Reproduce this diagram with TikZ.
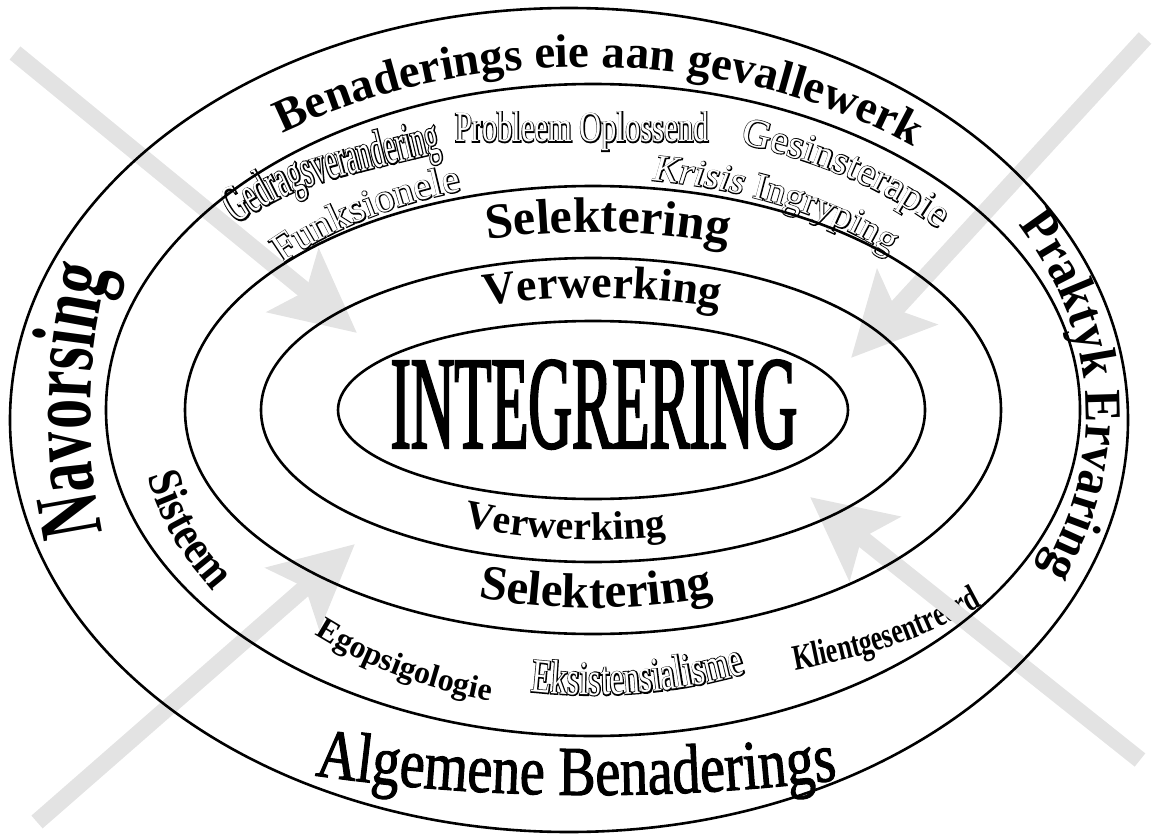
\documentclass[tikz,border=0pt]{standalone}
\usepackage{fontspec}
\setmainfont{Liberation Serif}
\newfontfamily\olback[FakeBold=4.5]{Liberation Serif}
\newfontfamily\integfont[FakeStretch=0.455, FakeBold=1.5]{Liberation Serif}
\usetikzlibrary{calc, arrows.meta, decorations.text}
\tikzset{
    ring/.style={draw, line width=2.6pt}, % the rings round the centre
    grayarrow/.style={draw=gray!22, line width=17pt, -{Stealth[length=82pt, width=80pt, inset=16pt]}}, % the big gray arrows
    curved/.style={decorate, decoration={text along path, text align=left, text={#1}}}, % text that follows a path
}
\newcommand\sz[2]{\addfontfeatures{FakeStretch=#2}\fontsize{#1}{#1}\selectfont}
% outlined text: a heavy black pass, then a white pass on top
\newcommand\olword[2]{%
    \def\olfam{\olback}%
    \path[decorate, decoration={text along path, text align=left, text={#2}}] #1;
    \def\olfam{\rmfamily}%
    \path[decorate, decoration={text along path, text align=left, text color=white, text={#2}}] #1;
}

\begin{document}
\begin{tikzpicture}[x=1pt, y=1pt]
    \useasboundingbox (0,0) rectangle (1153,-837);
    \coordinate (ctr) at (593,-410);
    \coordinate (octr) at (569,-420);
    \coordinate (tctr) at (585,-415);
    \coordinate (sctr) at (580,-415);
    \coordinate (bctr) at (593,-395);

    % outer band
    \path[curved={|\bfseries\sz{47}{1}|Benaderings eie aan gevallewerk}]
        ($(tctr)+(126:515 and 348)$) arc[start angle=126, end angle=20, x radius=515, y radius=348];
    \path[curved={|\addfontfeatures{FakeBold=1.5}\sz{70}{0.8}|Algemene Benaderings}]
        ($(bctr)+(252:900 and 400)$) arc[start angle=252, end angle=300, x radius=900, y radius=400];
    \path[curved={|\bfseries\sz{90}{0.67}|Navorsing}]
        ($(sctr)+(193.1:490 and 520)$) arc[start angle=193.1, end angle=140, x radius=490, y radius=520];
    \path[curved={|\bfseries\sz{52}{0.93}|Praktyk Ervaring}]
        ($(sctr)+(30:506 and 380)$) arc[start angle=30, end angle=-45, x radius=506, y radius=380];

    % approaches
    \coordinate (prA) at (455,-142);
    \coordinate (prB) at (760,-142);
    \olword{(prA) -- (prB)}{|\olfam\sz{43}{0.71}|Probleem Oplossend}
    \coordinate (gdA) at (236,-224);
    \coordinate (gdB) at (450,-150);
    \olword{(gdA) .. controls (298,-186) .. (gdB)}{|\olfam\sz{53}{0.51}|Gedragsverandering}
    \olword{($(ctr)+(141:400 and 232)$) arc[start angle=141, end angle=80, x radius=400, y radius=232]}{|\olfam\sz{40}{1}|Funksionele}
    \olword{($(ctr)+(70.9:450 and 282)$) arc[start angle=70.9, end angle=10, x radius=450, y radius=282]}{|\olfam\sz{40}{1}|Gesinsterapie}
    \olword{($(ctr)+(81.4:400 and 232)$) arc[start angle=81.4, end angle=15, x radius=400, y radius=232]}{|\olfam\itshape\sz{38}{1}|Krisis |\olfam\upshape\sz{38}{1}|Ingryping}
    \path[curved={|\bfseries\sz{48}{0.85}|Sisteem}]
        ($(ctr)+(191.7:455 and 330)$) arc[start angle=191.7, end angle=240, x radius=455, y radius=330];
    \path[curved={|\bfseries\sz{32}{1}|Egopsigologie}]
        ($(ctr)+(228.5:420 and 300)$) arc[start angle=228.5, end angle=290, x radius=420, y radius=300];
    \olword{($(ctr)+(261:400 and 285)$) arc[start angle=261, end angle=320, x radius=400, y radius=285]}{|\olfam\sz{48}{0.68}|Eksistensialisme}
    \coordinate (klA) at (795,-670);
    \coordinate (klB) at (1010,-590);
    \path[curved={|\bfseries\sz{36}{0.72}|Klientgesentreerd}] (klA) to[bend right=10] (klB);

    % selection and processing
    \path[curved={|\bfseries\sz{50}{1}|Selektering}]
        ($(ctr)+(106.6:370 and 178)$) arc[start angle=106.6, end angle=30, x radius=370, y radius=178];
    \path[curved={|\bfseries\sz{46}{1}|Verwerking}]
        ($(ctr)+(111.1:300 and 112)$) arc[start angle=111.1, end angle=30, x radius=300, y radius=112];
    \path[curved={|\bfseries\sz{40}{1}|Verwerking}]
        ($(ctr)+(243.4:290 and 130)$) arc[start angle=243.4, end angle=330, x radius=290, y radius=130];
    \path[curved={|\bfseries\sz{49}{1}|Selektering}]
        ($(ctr)+(251.4:360 and 198)$) arc[start angle=251.4, end angle=330, x radius=360, y radius=198];
    \node[font=\integfont\fontsize{133}{133}\selectfont, anchor=base] (integ) at (594,-448) {INTEGRERING};

    % arrows
    \coordinate (tlTail) at (15,-53);
    \coordinate (tlTip) at (357,-333);
    \coordinate (trTail) at (1145,-38);
    \coordinate (trTip) at (851,-358);
    \coordinate (blTail) at (37,-822);
    \coordinate (blTip) at (355,-544);
    \coordinate (brTail) at (1140,-760);
    \coordinate (brTip) at (810,-497);
    \draw[grayarrow] (tlTail) -- (tlTip);
    \draw[grayarrow] (trTail) -- (trTip);
    \draw[grayarrow] (blTail) -- (blTip);
    \draw[grayarrow] (brTail) -- (brTip);

    % rings
    \foreach \rx/\ry in {255/89, 332/152, 408/224, 487/326}
        \draw[ring] (ctr) ellipse [x radius=\rx, y radius=\ry];
    \draw[ring] (octr) ellipse [x radius=559, y radius=412];
\end{tikzpicture}
\end{document}
